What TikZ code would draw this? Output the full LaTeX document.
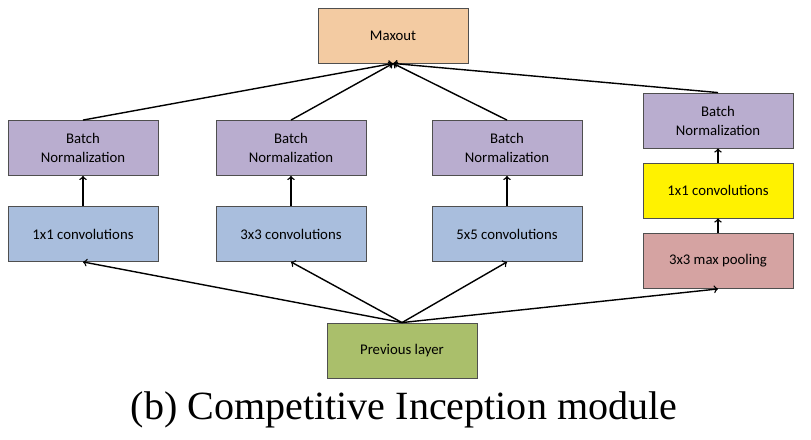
\documentclass[tikz,border=0pt]{standalone}
\usepackage{fontspec}
\setmainfont{Carlito}
\newfontfamily\captionfont{Liberation Serif}

\definecolor{maxoutc}{HTML}{F3CBA2}
\definecolor{bnc}{HTML}{B9ADCF}
\definecolor{convc}{HTML}{A9BEDD}
\definecolor{poolc}{HTML}{D5A3A2}
\definecolor{prevc}{HTML}{AABF6B}
\definecolor{edgec}{HTML}{4F4F4F}

\begin{document}
\begin{tikzpicture}

		\tikzstyle{layer}=[rectangle,
			draw=edgec,semithick,
			minimum height=1.375cm,minimum width=3.75cm,inner sep=1mm,
			align=center,font=\fontsize{10.5}{13.5}\selectfont]
		\tikzstyle{flow}=[->,>=to,line width=1pt]

		\useasboundingbox (0,0) rectangle (20.275,-10.975);

		\node[layer,fill=maxoutc]	(maxout)	at (9.825,-0.8875)	{Maxout};

		\node[layer,fill=bnc]	(bn1)	at (2.075,-3.7)	{Batch\\ Normalization};
		\node[layer,fill=bnc]	(bn2)	at (7.275,-3.7)	{Batch\\ Normalization};
		\node[layer,fill=bnc]	(bn3)	at (12.675,-3.7)	{Batch\\ Normalization};
		\node[layer,fill=bnc]	(bn4)	at (17.95,-3.0125)	{Batch\\ Normalization};

		\node[layer,fill=convc]	(conv1)	at (2.075,-5.85)	{1x1 convolutions};
		\node[layer,fill=convc]	(conv3)	at (7.275,-5.85)	{3x3 convolutions};
		\node[layer,fill=convc]	(conv5)	at (12.675,-5.85)	{5x5 convolutions};
		\node[layer,fill=yellow]	(proj)	at (17.95,-4.7625)	{1x1 convolutions};
		\node[layer,fill=poolc]	(pool)	at (17.95,-6.525)	{3x3 max pooling};

		\node[layer,fill=prevc]	(prev)	at (10.05,-8.7625)	{Previous layer};

		\node[font=\captionfont\fontsize{28.5}{32}\selectfont]	(caption)	at (10.1,-10.25)	{(b) Competitive Inception module};

		\draw[flow] (prev.north) to (conv1.south);
		\draw[flow] (prev.north) to (conv3.south);
		\draw[flow] (prev.north) to (conv5.south);
		\draw[flow] (prev.north) to (pool.south);

		\draw[flow] (conv1) to (bn1);
		\draw[flow] (conv3) to (bn2);
		\draw[flow] (conv5) to (bn3);
		\draw[flow] (pool) to (proj);
		\draw[flow] (proj) to (bn4);

		\draw[flow] (bn1.north) to (maxout.south);
		\draw[flow] (bn2.north) to (maxout.south);
		\draw[flow] (bn3.north) to (maxout.south);
		\draw[flow] (bn4.north) to (maxout.south);

	\end{tikzpicture}
\end{document}
